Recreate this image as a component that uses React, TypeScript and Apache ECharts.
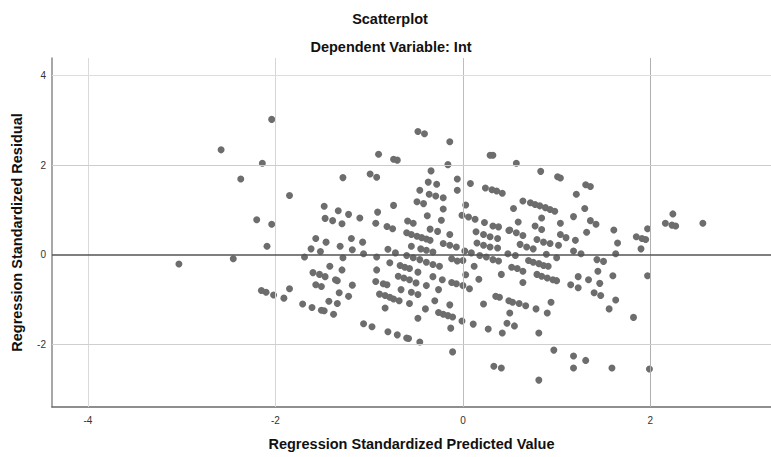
import React, { useEffect, useRef } from "react";
import * as echarts from "echarts";

const xTicks = [-4, -2, 0, 2];
const yTicks = [-2, 0, 2, 4];

const outlierPoints: [number, number][] = [
  [-3.03, -0.21], [-2.45, -0.09], [-2.58, 2.34], [-2.04, 3.02], [-2.14, 2.04], [-2.37, 1.69],
  [-1.85, 1.32], [-2.2, 0.78], [-2.04, 0.68], [-2.09, 0.19], [-2.15, -0.8], [-2.1, -0.84],
  [-2.02, -0.9], [-1.91, -0.97], [-1.85, -0.76], [-1.71, -1.1], [2.56, 0.7],
];

const upperLeftPoints: [number, number][] = [
  [-1.28, 1.72], [-0.9, 2.24], [-0.99, 1.8], [-0.92, 1.73], [-0.74, 2.13], [-0.7, 2.11],
  [-0.48, 2.75], [-0.41, 2.7], [-0.14, 2.52], [-0.16, 2.01], [0.29, 2.22], [0.32, 2.22],
  [-0.34, 1.87], [-0.06, 1.69], [0.08, 1.59], [-0.06, 1.44], [-0.37, 1.62], [-0.28, 1.57],
  [-0.46, 1.44], [-0.36, 1.35], [-0.29, 1.31], [-0.21, 1.27], [-0.49, 1.18], [-0.42, 1.14],
  [-0.74, 1.1], [-0.21, 1.02], [-0.38, 0.87], [-0.23, 0.77], [0.03, 1.11], [0.24, 1.49],
  [0.31, 1.45], [0.36, 1.42], [0.42, 1.37], [-0.01, 0.88], [0.06, 0.84], [0.13, 0.79],
  [0.23, 0.72], [0.32, 0.64], [0.38, 0.62], [0.14, 0.51], [0.22, 0.45], [0.29, 0.4],
  [0.37, 0.36], [0.49, 0.54], [-0.14, 0.45], [-0.35, 0.57], [-0.27, 0.52], [-0.59, 0.75],
  [-0.53, 0.7], [-0.6, 0.49], [-0.55, 0.45], [-0.49, 0.41], [-0.44, 0.38], [-0.39, 0.35],
  [-0.35, 0.32], [-0.55, 0.19], [-0.21, 0.25], [-0.14, 0.21], [-0.07, 0.17], [0.02, 0.08],
  [0.15, 0.26], [0.22, 0.21], [0.29, 0.17], [0.37, 0.15], [-1.48, 1.08], [-1.47, 0.81],
  [-1.39, 0.76], [-1.33, 0.98], [-1.22, 0.9], [-1.29, 0.69], [-1.1, 0.82], [-0.91, 0.95],
  [-0.93, 0.7], [-0.81, 0.63], [-0.75, 0.58], [-1.57, 0.36], [-1.46, 0.28], [-1.62, 0.13],
  [-1.31, 0.19], [-1.19, 0.36], [-1.07, 0.28], [-0.8, 0.12], [-1.52, 0.07], [-1.18, 0.11],
  [-0.72, 0.04], [-0.45, 0.13], [-0.39, 0.1], [-0.32, 0.06], [-1.69, -0.05], [-1.28, -0.07],
  [-1.06, 0.02], [-0.92, -0.05],
];

const lowerLeftPoints: [number, number][] = [
  [-1.6, -0.4], [-1.53, -0.44], [-1.47, -0.49], [-1.42, -0.26], [-1.29, -0.34], [-1.57, -0.67],
  [-1.51, -0.71], [-1.36, -0.56], [-1.34, -0.58], [-1.18, -0.68], [-1.32, -0.85], [-1.22, -0.93],
  [-1.43, -1.04], [-1.34, -1.09], [-1.61, -1.18], [-1.51, -1.24], [-1.48, -1.25], [-1.38, -1.33],
  [-1.06, -1.54], [-0.97, -1.61], [-0.8, -1.72], [-0.7, -1.79], [-0.6, -1.86], [-0.58, -1.87],
  [-0.46, -1.95], [-0.11, -2.17], [-0.92, -0.34], [-0.78, -0.18], [-0.93, -0.6], [-0.85, -0.65],
  [-0.81, -0.67], [-0.89, -0.88], [-0.83, -0.91], [-0.78, -0.95], [-0.74, -0.99], [-0.68, -1.03],
  [-0.83, -1.19], [-0.67, -0.24], [-0.62, -0.28], [-0.57, -0.31], [-0.69, -0.48], [-0.63, -0.52],
  [-0.57, -0.56], [-0.5, -0.63], [-0.66, -0.78], [-0.57, -1.09], [-0.55, -0.84], [-0.48, -0.89],
  [-0.48, -1.42], [-0.6, -0.02], [-0.53, -0.07], [-0.46, -0.11], [-0.39, -0.17], [-0.32, -0.22],
  [-0.25, -0.26], [-0.48, -0.39], [-0.39, -0.69], [-0.4, -1.21], [-0.32, -0.49], [-0.22, -0.56],
  [-0.26, -0.78], [-0.3, -1.03], [-0.26, -1.29], [-0.21, -1.33], [-0.16, -1.36], [-0.11, -1.39],
  [-0.14, -1.12], [-0.13, -1.64], [-0.01, -1.48], [-0.12, -0.09], [-0.06, -0.14], [-0.12, -0.62],
  [-0.07, -0.65], [0.0, -0.69], [0.03, -0.45], [0.07, -0.76],
];

const upperRightPoints: [number, number][] = [
  [0.57, 2.04], [0.83, 1.86], [1.01, 1.74], [1.04, 1.71], [1.31, 1.56], [1.36, 1.52],
  [1.21, 1.35], [1.3, 1.03], [1.18, 0.85], [1.36, 0.76], [1.42, 0.68], [1.32, 0.5],
  [1.61, 0.55], [1.65, 0.26], [1.63, 0.02], [1.85, 0.4], [1.91, 0.36], [1.95, 0.34],
  [1.97, 0.58], [1.9, 0.13], [2.16, 0.7], [2.23, 0.66], [2.27, 0.64], [2.24, 0.91],
  [0.54, 1.03], [0.64, 1.2], [0.72, 1.16], [0.77, 1.12], [0.82, 1.09], [0.88, 1.05],
  [0.93, 1.01], [0.98, 0.97], [0.59, 0.73], [0.84, 0.82], [1.04, 0.7], [0.5, 0.55],
  [0.57, 0.49], [0.64, 0.43], [0.77, 0.64], [0.84, 0.56], [0.79, 0.34], [1.04, 0.45],
  [1.1, 0.38], [1.2, 0.32], [0.86, 0.28], [0.93, 0.25], [1.02, 0.21], [0.61, 0.23],
  [0.68, 0.17], [0.75, 0.13], [0.48, 0.02], [0.56, -0.02], [1.18, 0.08], [1.26, 0.02],
  [0.09, 0.04], [0.18, -0.02], [0.25, -0.05], [0.89, 0.01],
];

const lowerRightPoints: [number, number][] = [
  [0.12, -0.26], [0.17, -0.55], [0.22, -1.1], [0.11, -1.55], [0.27, -1.66], [0.42, -1.75],
  [0.47, -1.53], [0.55, -1.59], [0.5, -1.3], [0.35, -0.93], [0.39, -0.95], [0.49, -1.03],
  [0.53, -1.06], [0.6, -1.09], [0.67, -1.14], [0.78, -1.21], [0.9, -1.3], [0.94, -1.06],
  [0.81, -1.75], [0.41, -0.44], [0.64, -0.62], [0.52, -0.28], [0.58, -0.31], [0.64, -0.37],
  [0.7, -0.13], [0.75, -0.17], [0.81, -0.2], [0.86, -0.24], [0.79, -0.44], [0.84, -0.48],
  [0.9, -0.52], [0.96, -0.56], [1.0, -0.58], [0.91, -0.26], [1.0, -0.07], [0.32, -0.11],
  [0.38, -0.14], [0.0, -0.13], [1.15, -0.67], [1.23, -0.49], [1.23, -0.74], [1.34, -0.56],
  [1.44, -0.37], [1.46, -0.64], [1.4, -0.85], [1.47, -0.91], [1.63, -1.01], [1.56, -1.21],
  [1.43, -0.11], [1.5, -0.15], [1.6, -0.47], [1.97, -0.47], [1.82, -1.4], [0.97, -2.13],
  [1.18, -2.26], [1.31, -2.36], [1.18, -2.53], [1.59, -2.53], [1.99, -2.55], [0.33, -2.49],
  [0.41, -2.53], [0.81, -2.8],
];

const allPoints = [
  ...outlierPoints,
  ...upperLeftPoints,
  ...lowerLeftPoints,
  ...upperRightPoints,
  ...lowerRightPoints,
];

const FONT = "'Liberation Sans', Arial, sans-serif";

export default function App() {
  const ref = useRef<HTMLDivElement>(null);
  useEffect(() => {
    if (!ref.current) return;
    const chart = echarts.init(ref.current, null, { renderer: "svg" });
    const gridLine = (color: string) => ({ lineStyle: { color, width: 1, type: "solid" } });
    chart.setOption({
      animation: false,
      backgroundColor: "#ffffff",
      graphic: [
        {
          type: "text",
          x: 390,
          y: 19,
          style: {
            text: "Scatterplot",
            font: `bold 14.5px ${FONT}`,
            fill: "#111",
            textAlign: "center",
            textVerticalAlign: "middle",
          },
        },
        {
          type: "text",
          x: 391,
          y: 47,
          style: {
            text: "Dependent Variable: Int",
            font: `bold 14.5px ${FONT}`,
            fill: "#111",
            textAlign: "center",
            textVerticalAlign: "middle",
          },
        },
      ],
      grid: { left: 52, right: 0, top: 58, bottom: 50, containLabel: false },
      xAxis: {
        type: "value",
        min: -4.384,
        max: 3.287,
        name: "Regression Standardized Predicted Value",
        nameLocation: "middle",
        nameGap: 29,
        nameTextStyle: { fontFamily: FONT, fontSize: 14.5, fontWeight: "bold", color: "#111" },
        axisLine: { show: true, onZero: false, lineStyle: { color: "#6a6a6a", width: 1.5 } },
        axisTick: { show: false },
        splitLine: { show: false },
        axisLabel: {
          customValues: xTicks,
          fontFamily: FONT,
          fontSize: 10,
          color: "#333",
          margin: 8,
          formatter: (v: number) => String(v),
        },
      },
      yAxis: {
        type: "value",
        min: -3.4,
        max: 4.39,
        name: "Regression Standardized Residual",
        nameLocation: "middle",
        nameGap: 28,
        nameTextStyle: { fontFamily: FONT, fontSize: 14.5, fontWeight: "bold", color: "#111" },
        axisLine: { show: true, onZero: false, lineStyle: { color: "#8a8a8a", width: 1.5 } },
        axisTick: { show: false },
        splitLine: { show: false },
        axisLabel: {
          customValues: yTicks,
          fontFamily: FONT,
          fontSize: 10,
          color: "#333",
          margin: 6,
          formatter: (v: number) => String(v),
        },
      },
      series: [
        {
          type: "scatter",
          data: [],
          z: 1,
          silent: true,
          markLine: {
            silent: true,
            symbol: "none",
            label: { show: false },
            animation: false,
            data: [
              { xAxis: -4, ...gridLine("#dadada") },
              { xAxis: -2, ...gridLine("#d6d6d6") },
              { xAxis: 0, ...gridLine("#bdbdbd") },
              { xAxis: 2, ...gridLine("#b0b0b0") },
              { yAxis: 4, ...gridLine("#dddddd") },
              { yAxis: 2, ...gridLine("#cccccc") },
              { yAxis: -2, ...gridLine("#cfcfcf") },
            ],
          },
        },
        {
          type: "scatter",
          data: [],
          z: 3,
          silent: true,
          markLine: {
            silent: true,
            symbol: "none",
            label: { show: false },
            animation: false,
            data: [{ yAxis: 0, lineStyle: { color: "#555555", width: 1.5, type: "solid" } }],
          },
        },
        {
          type: "scatter",
          z: 2,
          symbol: "circle",
          symbolSize: 7,
          itemStyle: { color: "#6d6d6d", opacity: 1 },
          data: allPoints,
        },
      ],
    });
    return () => chart.dispose();
  }, []);
  return (
    <div
      ref={ref}
      style={{ position: "absolute", left: 0, top: 0, width: 771, height: 457, background: "#fff" }}
    />
  );
}
